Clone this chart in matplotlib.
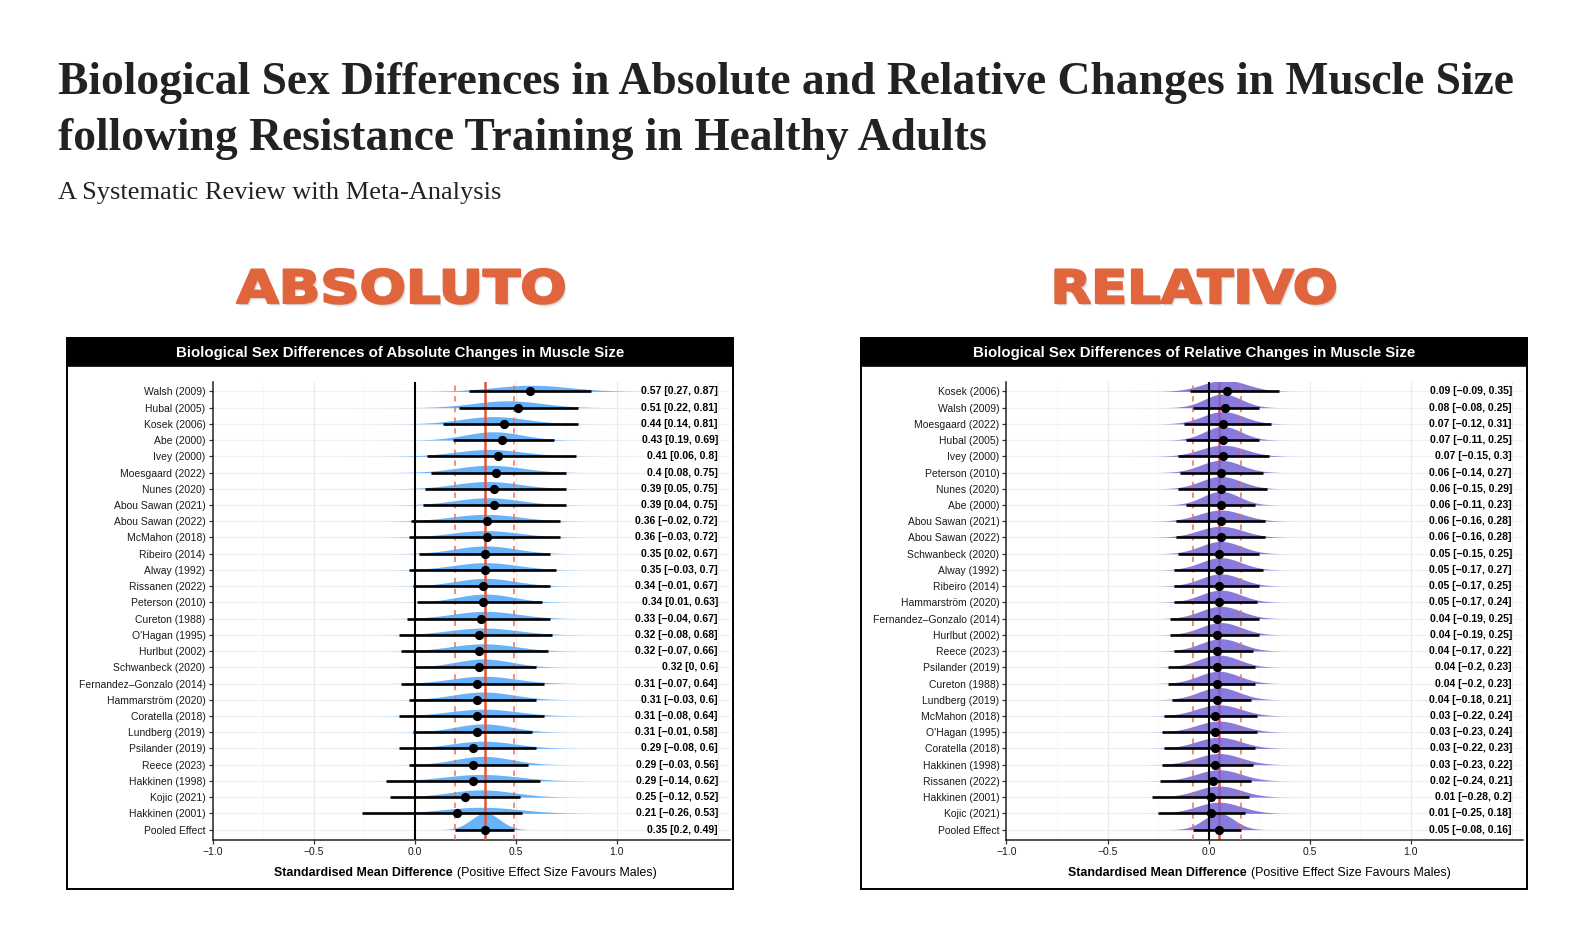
import numpy as np
import matplotlib
matplotlib.use("Agg")
import matplotlib.pyplot as plt
from matplotlib.patches import Rectangle
from matplotlib.patheffects import AbstractPathEffect
from matplotlib.transforms import Affine2D
from matplotlib.offsetbox import TextArea, HPacker, AnnotationBbox

# ---------------- data ----------------
abs_studies = ["Walsh (2009)", "Hubal (2005)", "Kosek (2006)", "Abe (2000)", "Ivey (2000)",
               "Moesgaard (2022)", "Nunes (2020)", "Abou Sawan (2021)", "Abou Sawan (2022)",
               "McMahon (2018)", "Ribeiro (2014)", "Alway (1992)", "Rissanen (2022)",
               "Peterson (2010)", "Cureton (1988)", "O'Hagan (1995)", "Hurlbut (2002)",
               "Schwanbeck (2020)", "Fernandez\u2013Gonzalo (2014)", "Hammarstr\u00f6m (2020)",
               "Coratella (2018)", "Lundberg (2019)", "Psilander (2019)", "Reece (2023)",
               "Hakkinen (1998)", "Kojic (2021)", "Hakkinen (2001)", "Pooled Effect"]
abs_est = [0.57, 0.51, 0.44, 0.43, 0.41, 0.4, 0.39, 0.39, 0.36, 0.36, 0.35, 0.35, 0.34, 0.34,
           0.33, 0.32, 0.32, 0.32, 0.31, 0.31, 0.31, 0.31, 0.29, 0.29, 0.29, 0.25, 0.21, 0.35]
abs_lo = [0.27, 0.22, 0.14, 0.19, 0.06, 0.08, 0.05, 0.04, -0.02, -0.03, 0.02, -0.03, -0.01, 0.01,
          -0.04, -0.08, -0.07, 0, -0.07, -0.03, -0.08, -0.01, -0.08, -0.03, -0.14, -0.12, -0.26, 0.2]
abs_hi = [0.87, 0.81, 0.81, 0.69, 0.8, 0.75, 0.75, 0.75, 0.72, 0.72, 0.67, 0.7, 0.67, 0.63,
          0.67, 0.68, 0.66, 0.6, 0.64, 0.6, 0.64, 0.58, 0.6, 0.56, 0.62, 0.52, 0.53, 0.49]
# posterior density (centre, spread) read from the slabs
abs_dens_mu = [0.58, 0.46, 0.39, 0.39, 0.37, 0.37, 0.36, 0.36, 0.35, 0.35, 0.35, 0.35, 0.35, 0.35,
               0.35, 0.34, 0.34, 0.34, 0.34, 0.34, 0.34, 0.34, 0.34, 0.34, 0.33, 0.33, 0.33, 0.35]
abs_dens_sd = [0.19, 0.17, 0.16, 0.14, 0.17, 0.16, 0.16, 0.16, 0.17, 0.17, 0.15, 0.16, 0.15, 0.14,
               0.16, 0.17, 0.16, 0.14, 0.16, 0.15, 0.17, 0.14, 0.16, 0.14, 0.18, 0.16, 0.19, 0.07]
abs_pooled = 0.35
abs_pooled_ci = [0.2, 0.49]

rel_studies = ["Kosek (2006)", "Walsh (2009)", "Moesgaard (2022)", "Hubal (2005)", "Ivey (2000)",
               "Peterson (2010)", "Nunes (2020)", "Abe (2000)", "Abou Sawan (2021)",
               "Abou Sawan (2022)", "Schwanbeck (2020)", "Alway (1992)", "Ribeiro (2014)",
               "Hammarstr\u00f6m (2020)", "Fernandez\u2013Gonzalo (2014)", "Hurlbut (2002)",
               "Reece (2023)", "Psilander (2019)", "Cureton (1988)", "Lundberg (2019)",
               "McMahon (2018)", "O'Hagan (1995)", "Coratella (2018)", "Hakkinen (1998)",
               "Rissanen (2022)", "Hakkinen (2001)", "Kojic (2021)", "Pooled Effect"]
rel_est = [0.09, 0.08, 0.07, 0.07, 0.07, 0.06, 0.06, 0.06, 0.06, 0.06, 0.05, 0.05, 0.05, 0.05,
           0.04, 0.04, 0.04, 0.04, 0.04, 0.04, 0.03, 0.03, 0.03, 0.03, 0.02, 0.01, 0.01, 0.05]
rel_lo = [-0.09, -0.08, -0.12, -0.11, -0.15, -0.14, -0.15, -0.11, -0.16, -0.16, -0.15, -0.17, -0.17,
          -0.17, -0.19, -0.19, -0.17, -0.2, -0.2, -0.18, -0.22, -0.23, -0.22, -0.23, -0.24, -0.28,
          -0.25, -0.08]
rel_hi = [0.35, 0.25, 0.31, 0.25, 0.3, 0.27, 0.29, 0.23, 0.28, 0.28, 0.25, 0.27, 0.25, 0.24,
          0.25, 0.25, 0.22, 0.23, 0.23, 0.21, 0.24, 0.24, 0.23, 0.22, 0.21, 0.2, 0.18, 0.16]
rel_dens_mu = [0.08, 0.07, 0.07, 0.07, 0.07, 0.06, 0.06, 0.06, 0.06, 0.06, 0.06, 0.06, 0.06, 0.06,
               0.06, 0.06, 0.06, 0.05, 0.05, 0.05, 0.05, 0.05, 0.05, 0.05, 0.05, 0.05, 0.05, 0.05]
rel_dens_sd = [0.11, 0.09, 0.1, 0.09, 0.11, 0.1, 0.1, 0.09, 0.11, 0.11, 0.1, 0.1, 0.1, 0.1,
               0.1, 0.1, 0.1, 0.1, 0.1, 0.1, 0.11, 0.11, 0.11, 0.11, 0.11, 0.11, 0.11, 0.075]
rel_pooled = 0.05
rel_pooled_ci = [-0.08, 0.16]

xticks = [-1.0, -0.5, 0.0, 0.5, 1.0]

# ---------------- figure ----------------
W, H = 1594, 938
fig = plt.figure(figsize=(W / 100, H / 100), dpi=100)
fig.patch.set_facecolor("white")

SANS = "Liberation Sans"
SERIF = "Liberation Serif"


def fx(x):
    return x / W


def fy(y):
    return 1 - y / H


def rect(x0, y0, x1, y1):
    return [x0 / W, 1 - y1 / H, (x1 - x0) / W, (y1 - y0) / H]


class StretchX(AbstractPathEffect):
    """Widen and embolden text horizontally about its centre, with a soft drop shadow."""

    def __init__(self, sx, stroke=1.6, shadow_offset=(2, -2.5), shadow_alpha=0.22):
        super().__init__()
        self.sx = sx
        self.stroke = stroke
        self.so = shadow_offset
        self.sa = shadow_alpha

    def draw_path(self, renderer, gc, tpath, affine, rgbFace=None):
        ext = tpath.get_extents(affine)
        cx = 0.5 * (ext.x0 + ext.x1)
        aff = affine + Affine2D().translate(-cx, 0).scale(self.sx, 1).translate(cx, 0)
        for k, a in [(1.0, self.sa * 0.5), (0.6, self.sa)]:
            gc0 = renderer.new_gc()
            gc0.copy_properties(gc)
            gc0.set_alpha(a)
            gc0.set_linewidth(0)
            renderer.draw_path(gc0, tpath,
                               aff + Affine2D().translate(self.so[0] * k * 1.3, self.so[1] * k * 1.3),
                               (0.45, 0.45, 0.45))
            gc0.restore()
        gc1 = renderer.new_gc()
        gc1.copy_properties(gc)
        gc1.set_foreground(rgbFace)
        gc1.set_linewidth(self.stroke)
        gc1.set_joinstyle("round")
        renderer.draw_path(gc1, tpath, aff, rgbFace)
        gc1.restore()


def fmt(v):
    s = f"{v:g}"
    return s.replace("-", "\u2212")


def panel(box, ax_left, ax_right, ax_top, ax_bottom, title, studies, est, lo, hi,
          dmu, dsd, pooled, pooled_ci, color, dens_scale, red_on_top, dens_alpha):
    x0, y0, x1, y1 = box
    # border and title strip
    fig.add_artist(Rectangle((fx(x0), fy(366)), (x1 - x0) / W, (366 - y0) / H,
                             transform=fig.transFigure, facecolor="black", edgecolor="black",
                             lw=1.2, zorder=5))
    fig.add_artist(Rectangle((fx(x0), fy(y1)), (x1 - x0) / W, (y1 - y0) / H,
                             transform=fig.transFigure, facecolor="none", edgecolor="black",
                             lw=1.4, zorder=5))
    fig.text(fx((x0 + x1) / 2), fy(352.5), title, color="white", fontsize=10.8,
             fontweight="bold", family=SANS, ha="center", va="center", zorder=6)

    ax = fig.add_axes(rect(ax_left, ax_top, ax_right, ax_bottom))
    n = len(studies)
    ys = np.arange(n)[::-1].astype(float)  # first study at top
    xmin, xmax = -1.0, 1.557
    ax.set_xlim(xmin, xmax)
    ax.set_ylim(-0.64, n - 1 + 0.58)

    # grid
    for y in ys:
        ax.axhline(y, color="#f1f1f1", lw=0.9, zorder=0)
    for xv in [-0.75, -0.25, 0.25, 0.75, 1.25]:
        ax.axvline(xv, color="#f7f7f7", lw=0.6, zorder=0)
    for xv in [-0.5, 0.5, 1.0, 1.5]:
        ax.axvline(xv, color="#ececec", lw=0.9, zorder=0)

    # slabs
    for y, m, s in zip(ys, dmu, dsd):
        xx = np.linspace(m - 4.5 * s, m + 4.5 * s, 300)
        pdf = np.exp(-0.5 * ((xx - m) / s) ** 2) / (s * np.sqrt(2 * np.pi))
        ax.fill_between(xx, y, y + pdf * dens_scale, color=color, lw=0, alpha=dens_alpha,
                        zorder=2)

    red = "#e2553b"
    ax.axvline(pooled, color=red, lw=1.8, zorder=3 if red_on_top else 1)
    for c in pooled_ci:
        ax.axvline(c, color="#ec6f58", lw=1.1, ls=(0, (3.5, 3.5)), zorder=3)
    ax.axvline(0, color="black", lw=1.5, zorder=4)

    # intervals and points
    ax.hlines(ys, lo, hi, color="black", lw=1.9, zorder=5)
    ax.plot(est, ys, "o", color="black", ms=5.6, zorder=6)

    # value labels
    for y, e, l, h in zip(ys, est, lo, hi):
        ax.text(1.5, y, f"{fmt(e)} [{fmt(l)}, {fmt(h)}]", ha="right", va="center",
                fontsize=7.5, fontweight="bold", family=SANS, color="black", zorder=7)

    ax.set_yticks(ys)
    ax.set_yticklabels(studies, family=SANS, fontsize=7.5, color="#1a1a1a")
    ax.set_xticks(xticks)
    ax.set_xticklabels([("\u2212" + f"{abs(t):.1f}") if t < 0 else f"{t:.1f}" for t in xticks],
                       family=SANS, fontsize=7.5, color="#1a1a1a")
    ax.tick_params(axis="both", length=3, width=0.9, color="#333333", pad=2)
    for side in ["top", "right"]:
        ax.spines[side].set_visible(False)
    for side in ["left", "bottom"]:
        ax.spines[side].set_color("#222222")
        ax.spines[side].set_linewidth(1.1)
    ax.set_facecolor("none")

    # x label: bold + regular
    t1 = TextArea("Standardised Mean Difference",
                  textprops=dict(fontsize=8.9, fontweight="bold", family=SANS, color="black"))
    t2 = TextArea("(Positive Effect Size Favours Males)",
                  textprops=dict(fontsize=8.9, family=SANS, color="black"))
    pk = HPacker(children=[t1, t2], align="baseline", pad=0, sep=3)
    ab = AnnotationBbox(pk, (fx((ax_left + ax_right) / 2 - 6), fy(873)),
                        xycoords="figure fraction", frameon=False, box_alignment=(0.5, 0.5))
    fig.add_artist(ab)
    return ax


# left panel
panel((67, 338.5, 733, 888.5), 212.5, 729.5, 382, 840,
      "Biological Sex Differences of Absolute Changes in Muscle Size",
      abs_studies, abs_est, abs_lo, abs_hi, abs_dens_mu, abs_dens_sd,
      abs_pooled, abs_pooled_ci, "#66b2fb", 0.18, True, 1.0)
# right panel
panel((861, 338.5, 1527, 888.5), 1006.5, 1523.5, 382, 840,
      "Biological Sex Differences of Relative Changes in Muscle Size",
      rel_studies, rel_est, rel_lo, rel_hi, rel_dens_mu, rel_dens_sd,
      rel_pooled, rel_pooled_ci, "#7563d8", 0.19, False, 0.85)

# headings
t_l1 = fig.text(fx(58), fy(93.5),
                "Biological Sex Differences in Absolute and Relative Changes in Muscle Size",
                family=SERIF, fontweight="bold", fontsize=37, color="#222222", va="baseline")
t_l2 = fig.text(fx(58), fy(149.5), "following Resistance Training in Healthy Adults",
                family=SERIF, fontweight="bold", fontsize=37, color="#222222", va="baseline")
t_sub = fig.text(fx(58), fy(199), "A Systematic Review with Meta-Analysis",
                 family=SERIF, fontsize=19, color="#222222", va="baseline")

fig.canvas.draw()
r = fig.canvas.get_renderer()
w1 = t_l1.get_window_extent(r).width
fs = 37 * 1457 / w1
t_l1.set_fontsize(fs)
t_l2.set_fontsize(fs)
ws = t_sub.get_window_extent(r).width
t_sub.set_fontsize(19 * 443 / ws)

orange = "#e0653c"
fig.text(fx(401.5), fy(303), "ABSOLUTO", family="DejaVu Sans", fontweight="bold",
         fontsize=33, color=orange, ha="center", va="baseline",
         path_effects=[StretchX(1.19)])
fig.text(fx(1194.5), fy(303), "RELATIVO", family="DejaVu Sans", fontweight="bold",
         fontsize=33, color=orange, ha="center", va="baseline",
         path_effects=[StretchX(1.15)])

fig.savefig("out.png", dpi=100, facecolor="white")
